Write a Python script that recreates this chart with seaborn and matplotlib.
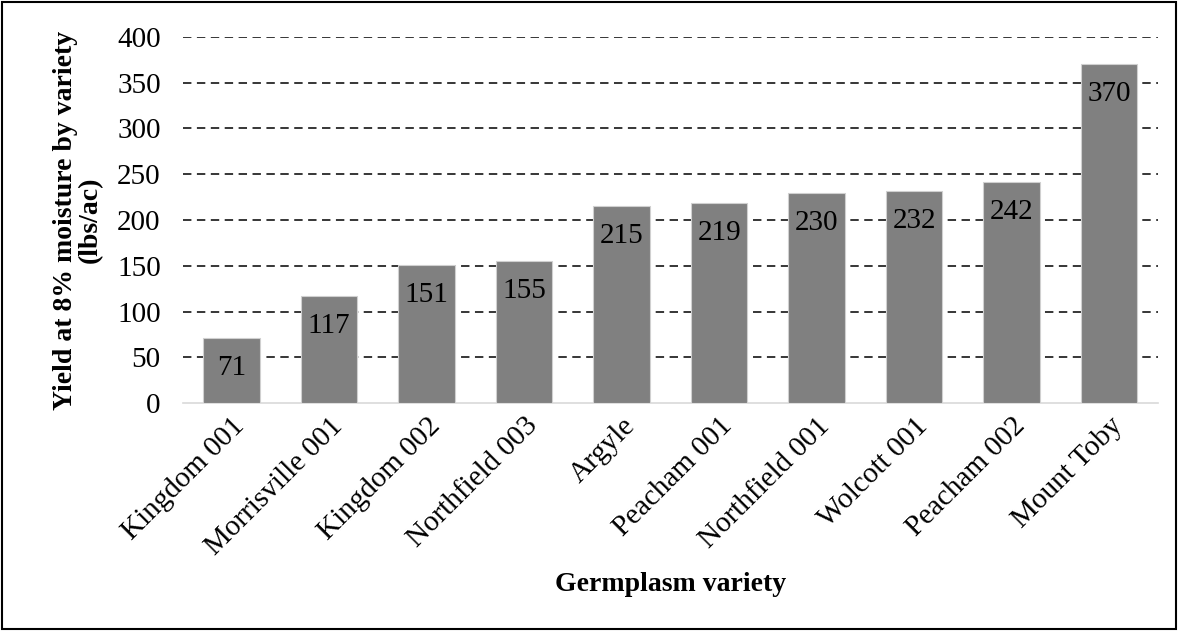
import pandas as pd
import seaborn as sns
import matplotlib.pyplot as plt
from matplotlib.patches import Rectangle

# === Data ===
varieties = ["Kingdom 001", "Morrisville 001", "Kingdom 002", "Northfield 003", "Argyle",
             "Peacham 001", "Northfield 001", "Wolcott 001", "Peacham 002", "Mount Toby"]
yields = [71, 117, 151, 155, 215, 219, 230, 232, 242, 370]
y_ticks = [0, 50, 100, 150, 200, 250, 300, 350, 400]

df = pd.DataFrame({"variety": varieties, "yield": yields})

sns.set_style("white")
plt.rcParams["font.family"] = ["Liberation Serif", "DejaVu Serif"]
plt.rcParams["text.color"] = "black"
plt.rcParams["axes.labelcolor"] = "black"
plt.rcParams["xtick.color"] = "black"
plt.rcParams["ytick.color"] = "black"

fig = plt.figure(figsize=(11.78, 6.31), dpi=100)
ax = fig.add_axes([0.1553, 0.3613, 0.8277, 0.5801])

sns.barplot(data=df, x="variety", y="yield", color="#808080", saturation=1,
            width=0.58, edgecolor="#d0d0d0", linewidth=0.8, ax=ax, zorder=3)

# dashed horizontal grid (not on zero line)
for t in y_ticks[1:]:
    ax.axhline(t, color="black", linewidth=1.1, linestyle=(0, (5.5, 3.6)), zorder=1)

# value labels inside the top of each bar
for p, v in zip(ax.patches, yields):
    ax.annotate(str(v), (p.get_x() + p.get_width() / 2, p.get_height()),
                xytext=(0, -30), textcoords="offset pixels",
                ha="center", va="center", fontsize=21, color="black", zorder=4)

ax.set_ylim(0, 400)
ax.set_xlim(-0.5, len(varieties) - 0.5)
ax.set_yticks(y_ticks)
ax.set_yticklabels([str(t) for t in y_ticks], fontsize=21)
ax.set_xticks(range(len(varieties)))
ax.set_xticklabels(varieties, rotation=45, ha="right", rotation_mode="anchor", fontsize=21)
ax.tick_params(axis="x", length=0, pad=7)
ax.tick_params(axis="y", length=0, pad=16)

for side in ["top", "right", "left"]:
    ax.spines[side].set_visible(False)
ax.spines["bottom"].set_color("#d9d9d9")
ax.spines["bottom"].set_linewidth(1.2)

ax.set_xlabel("Germplasm variety", fontsize=20, fontweight="bold", labelpad=9)
ax.set_ylabel("Yield at 8% moisture by variety\n(lbs/ac)", fontsize=20,
              fontweight="bold", labelpad=10, linespacing=1.0)

# outer border of the chart area
fig.patches.append(Rectangle((0.002, 0.003), 0.996, 0.994, transform=fig.transFigure,
                             fill=False, edgecolor="black", linewidth=1.5))

fig.savefig("out.png", dpi=100)
plt.close()
